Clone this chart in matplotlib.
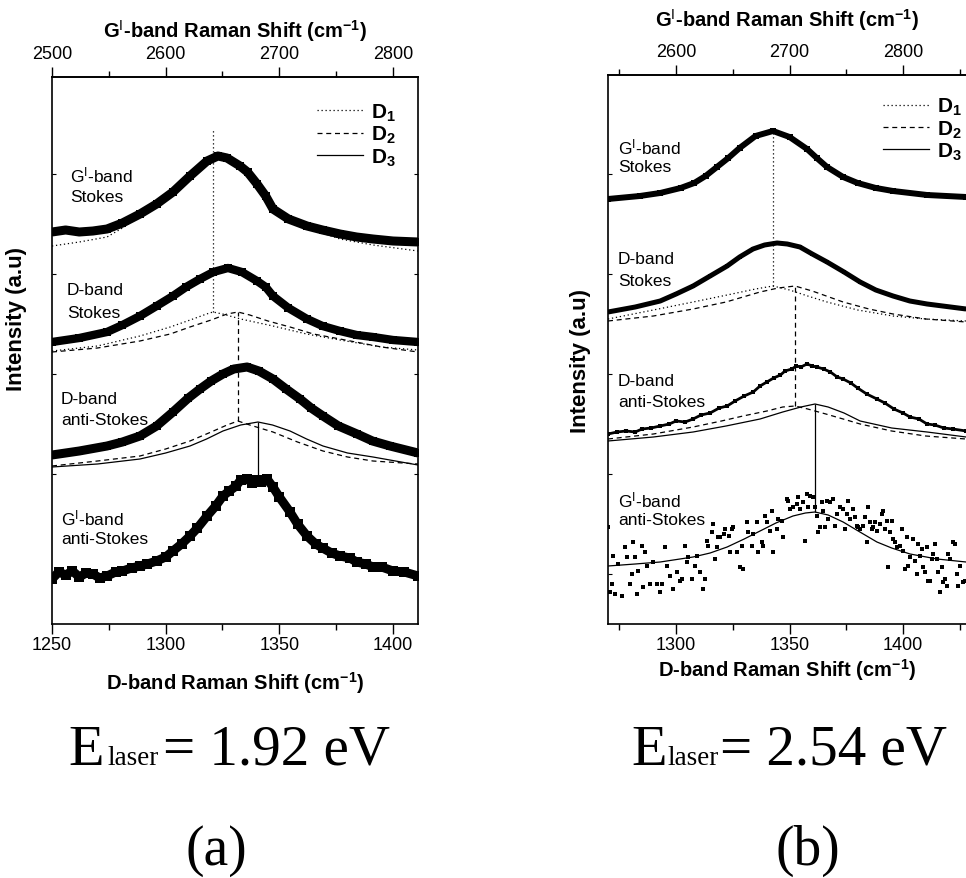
import matplotlib
matplotlib.use('Agg')
import matplotlib.pyplot as plt
from matplotlib.lines import Line2D

plt.rcParams['font.family'] = ['Liberation Sans', 'DejaVu Sans']
plt.rcParams['mathtext.fontset'] = 'custom'
plt.rcParams['mathtext.rm'] = 'Liberation Sans'
plt.rcParams['mathtext.bf'] = 'Liberation Sans:bold'
plt.rcParams['mathtext.it'] = 'Liberation Sans:italic'

# ================= panel (a): E_laser = 1.92 eV =================
# G'-band Stokes (measured) and its D1 fit
a_gs_x = [1250, 1256, 1262, 1268, 1274.2, 1281, 1288.7, 1296, 1303.2, 1310.7, 1318.2, 1323, 1327, 1332.7, 1336,
          1340.2, 1344, 1347.2, 1354, 1362.2, 1369, 1376.7, 1384, 1391.2, 1400, 1411]
a_gs_y = [3.92, 3.94, 3.92, 3.93, 3.95, 4.01, 4.10, 4.20, 4.32, 4.48, 4.63, 4.68, 4.66, 4.58, 4.52,
          4.40, 4.28, 4.15, 4.05, 3.98, 3.94, 3.90, 3.87, 3.85, 3.83, 3.82]
a_gs_d1_x = [1250, 1262, 1274.2, 1281, 1288.7, 1296, 1303.2, 1310.7, 1318.2, 1323, 1327, 1332.7, 1340.2, 1347.2,
             1354, 1362.2, 1376.7, 1391.2, 1411]
a_gs_d1_y = [3.78, 3.82, 3.87, 3.96, 4.08, 4.20, 4.32, 4.48, 4.63, 4.68, 4.66, 4.58, 4.40, 4.17,
             4.05, 3.96, 3.85, 3.79, 3.73]
# D-band Stokes (measured) with D1 and D2 components
a_ds_x = [1250, 1262, 1274.2, 1281, 1288.7, 1296, 1303.2, 1309, 1315.1, 1321, 1327.4, 1333.5, 1340.2, 1344,
          1347.2, 1354, 1362.2, 1369, 1376.7, 1384, 1391.2, 1400, 1411]
a_ds_y = [2.82, 2.86, 2.92, 2.99, 3.08, 3.18, 3.28, 3.37, 3.45, 3.52, 3.56, 3.52, 3.43, 3.37,
          3.28, 3.16, 3.05, 2.98, 2.93, 2.89, 2.87, 2.84, 2.82]
a_ds_d1_x = [1250, 1270, 1288.7, 1302, 1312, 1318, 1320.8, 1325, 1333, 1347.2, 1362, 1376.7, 1395, 1411]
a_ds_d1_y = [2.73, 2.78, 2.88, 2.97, 3.05, 3.10, 3.12, 3.10, 3.05, 2.98, 2.90, 2.84, 2.77, 2.74]
a_ds_d2_x = [1250, 1270, 1288.7, 1302, 1310.7, 1320, 1327, 1331.8, 1337, 1345, 1354.7, 1365, 1376.7, 1395, 1411]
a_ds_d2_y = [2.72, 2.76, 2.83, 2.90, 2.97, 3.04, 3.10, 3.12, 3.09, 3.03, 2.97, 2.90, 2.85, 2.77, 2.72]
# D-band anti-Stokes (measured) with D2 and D3 components
a_das_x = [1250, 1262, 1274.2, 1281, 1288.7, 1296, 1303.2, 1310, 1315.1, 1320, 1325.2, 1330, 1335.8, 1341,
           1347.2, 1353, 1359.1, 1364, 1369.2, 1376, 1384.2, 1391, 1398.7, 1411]
a_das_y = [1.69, 1.73, 1.78, 1.82, 1.88, 1.98, 2.12, 2.26, 2.35, 2.43, 2.50, 2.55, 2.57, 2.53,
           2.45, 2.35, 2.25, 2.16, 2.08, 1.98, 1.90, 1.83, 1.78, 1.71]
a_das_d2_x = [1250, 1270, 1288.7, 1300, 1310.7, 1320, 1327, 1331.8, 1337, 1347.2, 1358, 1369.2, 1380, 1391.2, 1411]
a_das_d2_y = [1.58, 1.63, 1.68, 1.75, 1.83, 1.92, 1.99, 2.03, 1.99, 1.92, 1.82, 1.73, 1.67, 1.63, 1.60]
a_das_d3_x = [1250, 1270, 1288.7, 1300, 1310.7, 1318, 1325.2, 1333, 1340.6, 1347, 1354.7, 1362, 1369.2, 1380,
              1391.2, 1411]
a_das_d3_y = [1.57, 1.60, 1.65, 1.71, 1.78, 1.85, 1.93, 1.99, 2.02, 1.99, 1.93, 1.85, 1.78, 1.71, 1.67, 1.59]
# G'-band anti-Stokes (measured)
a_gas_x = [1250, 1253, 1256, 1259, 1262, 1265, 1268, 1271, 1274.2, 1278, 1281, 1285, 1288.7, 1292, 1296, 1300,
           1303.2, 1307, 1310.7, 1314, 1318.2, 1322, 1325.2, 1328, 1331, 1333, 1335.8, 1338, 1340, 1342, 1344.6,
           1347.2, 1350, 1354.7, 1358, 1362.2, 1366, 1369, 1373, 1376.7, 1381, 1384, 1388, 1391.2, 1395, 1400,
           1405, 1411]
a_gas_y = [0.45, 0.52, 0.49, 0.53, 0.47, 0.51, 0.50, 0.46, 0.48, 0.52, 0.53, 0.56, 0.58, 0.60, 0.63, 0.67,
           0.73, 0.80, 0.88, 0.96, 1.08, 1.18, 1.28, 1.33, 1.38, 1.44, 1.45, 1.41, 1.44, 1.42, 1.45,
           1.37, 1.27, 1.12, 1.00, 0.88, 0.80, 0.76, 0.71, 0.68, 0.66, 0.62, 0.60, 0.57, 0.57, 0.53,
           0.52, 0.48]
# peak markers (vertical guide lines)
a_vline_x = [1320.8, 1331.8, 1340.6]
a_vline_top = [4.95, 3.12, 2.02]
a_vline_bot = [3.12, 2.03, 1.45]

# ================= panel (b): E_laser = 2.54 eV =================
b_gs_x = [1270, 1284, 1293, 1302, 1308, 1313, 1318, 1323, 1328, 1335, 1342.7, 1350, 1357.7, 1362, 1366.5,
          1373.6, 1380, 1388, 1395.6, 1410.6, 1427.8]
b_gs_y = [4.25, 4.28, 4.31, 4.36, 4.41, 4.48, 4.57, 4.66, 4.76, 4.88, 4.93, 4.87, 4.75, 4.66, 4.57,
          4.47, 4.41, 4.36, 4.33, 4.29, 4.27]
b_ds_x = [1270, 1282, 1293, 1300, 1307.5, 1315, 1322.5, 1328, 1333.9, 1339, 1344.5, 1349, 1354.6, 1360, 1366.5,
          1374, 1381.1, 1388, 1395.6, 1403, 1410.6, 1427.8]
b_ds_y = [3.12, 3.17, 3.23, 3.30, 3.38, 3.48, 3.58, 3.67, 3.75, 3.79, 3.81, 3.80, 3.77, 3.70, 3.62,
          3.52, 3.42, 3.34, 3.28, 3.23, 3.20, 3.15]
b_ds_d1_x = [1270, 1290, 1307.5, 1322.5, 1335, 1342.7, 1350, 1358, 1366.5, 1380, 1395.6, 1410, 1427.8]
b_ds_d1_y = [3.05, 3.14, 3.22, 3.29, 3.35, 3.38, 3.34, 3.28, 3.22, 3.14, 3.08, 3.05, 3.03]
b_ds_d2_x = [1270, 1290, 1307.5, 1322, 1337, 1345, 1352.4, 1360, 1373.6, 1385, 1395.6, 1410, 1427.8]
b_ds_d2_y = [3.03, 3.08, 3.15, 3.22, 3.32, 3.36, 3.38, 3.33, 3.22, 3.15, 3.10, 3.05, 3.02]
b_das_x = [1270, 1274, 1278, 1282, 1285, 1289, 1293, 1297, 1300, 1304, 1307.5, 1311, 1315, 1319, 1322.5, 1326,
           1330, 1334, 1337, 1340, 1343, 1346, 1348, 1351, 1353, 1355, 1357.7, 1360, 1362, 1365, 1368, 1371,
           1373.6, 1377, 1380, 1384, 1388.5, 1392, 1396, 1400, 1403.1, 1407, 1410.6, 1414, 1418, 1422, 1427.8]
b_das_y = [1.90, 1.92, 1.93, 1.92, 1.95, 1.96, 1.98, 2.00, 2.03, 2.02, 2.05, 2.09, 2.11, 2.16, 2.18, 2.23,
           2.28, 2.32, 2.38, 2.42, 2.46, 2.49, 2.53, 2.55, 2.58, 2.57, 2.60, 2.58, 2.57, 2.55, 2.52, 2.47,
           2.45, 2.41, 2.36, 2.30, 2.25, 2.21, 2.15, 2.11, 2.07, 2.05, 2.00, 1.99, 1.96, 1.95, 1.93]
b_das_d2_x = [1270, 1290, 1307.5, 1320, 1329.5, 1340, 1347, 1352.4, 1358, 1366, 1373.6, 1381.1, 1395, 1410, 1427.8]
b_das_d2_y = [1.85, 1.90, 1.97, 2.03, 2.08, 2.13, 2.17, 2.18, 2.15, 2.10, 2.05, 2.00, 1.93, 1.88, 1.85]
b_das_d3_x = [1270, 1290, 1307.5, 1322, 1337, 1347, 1355, 1361.2, 1367, 1374, 1381.1, 1395, 1410.6, 1427.8]
b_das_d3_y = [1.83, 1.87, 1.92, 1.98, 2.05, 2.12, 2.17, 2.20, 2.17, 2.11, 2.03, 1.96, 1.92, 1.87]
b_gas_fit_x = [1270, 1282, 1293, 1307.5, 1315, 1322.5, 1330, 1337, 1344, 1351.5, 1357, 1361.2, 1367, 1373.6,
               1381, 1388.5, 1395, 1403.1, 1415, 1427.8]
b_gas_fit_y = [0.58, 0.60, 0.62, 0.67, 0.71, 0.77, 0.85, 0.93, 1.01, 1.08, 1.11, 1.12, 1.09, 1.02,
               0.92, 0.82, 0.76, 0.70, 0.65, 0.62]
b_gas_x = [1270.2, 1271.7, 1270.9, 1273.1, 1276.1, 1272.4, 1274.6, 1277.5, 1278.3, 1279.7, 1280.5, 1281.2, 1281.9, 1282.7,
           1283.4, 1284.9, 1285.6, 1286.3, 1287.1, 1288.5, 1290.0, 1291.5, 1293.0, 1293.7, 1295.2, 1295.9, 1297.4, 1298.8,
           1300.3, 1301.8, 1302.5, 1304.0, 1304.7, 1305.4, 1306.9, 1308.4, 1309.1, 1310.6, 1312.0, 1312.8, 1313.5, 1314.2,
           1315.7, 1316.4, 1317.2, 1317.9, 1318.6, 1319.4, 1320.9, 1321.6, 1323.1, 1323.8, 1324.5, 1325.3, 1326.7, 1328.2,
           1328.9, 1329.7, 1331.1, 1331.9, 1333.3, 1334.1, 1335.5, 1336.3, 1337.7, 1338.5, 1339.2, 1339.9, 1341.4, 1342.1,
           1342.9, 1344.3, 1345.1, 1346.5, 1347.3, 1348.8, 1349.5, 1350.2, 1351.7, 1353.2, 1353.9, 1354.6, 1356.1, 1356.8,
           1357.6, 1358.3, 1359.0, 1360.5, 1361.2, 1362.0, 1362.7, 1363.4, 1364.2, 1364.9, 1365.6, 1366.4, 1367.1, 1367.8,
           1369.3, 1370.0, 1370.8, 1372.2, 1373.7, 1374.4, 1375.2, 1375.9, 1376.7, 1378.1, 1378.9, 1379.6, 1380.3, 1381.1,
           1382.5, 1383.3, 1384.0, 1384.7, 1385.5, 1386.2, 1386.9, 1387.7, 1388.4, 1389.9, 1390.6, 1391.3, 1392.1, 1392.8,
           1393.5, 1394.3, 1395.0, 1395.7, 1396.5, 1397.2, 1398.7, 1399.4, 1400.1, 1400.9, 1401.6, 1402.3, 1403.1, 1404.6,
           1405.3, 1406.0, 1406.8, 1407.5, 1408.2, 1409.0, 1409.7, 1410.4, 1411.2, 1411.9, 1412.6, 1413.4, 1414.1, 1414.8,
           1415.6, 1416.3, 1417.0, 1417.8, 1418.5, 1419.2, 1420.0, 1420.7, 1422.2, 1422.9, 1423.6, 1424.4, 1425.1, 1426.6,
           1427.3]
b_gas_y = [0.97, 0.40, 0.32, 0.30, 0.28, 0.68, 0.60, 0.77, 0.67, 0.40, 0.50, 0.82, 0.67, 0.30,
           0.53, 0.78, 0.37, 0.72, 0.58, 0.40, 0.62, 0.40, 0.32, 0.40, 0.77, 0.58, 0.48, 0.35,
           0.52, 0.43, 0.45, 0.78, 0.62, 0.67, 0.45, 0.58, 0.68, 0.52, 0.35, 0.45, 0.83, 0.78,
           0.92, 1.00, 0.65, 0.77, 0.87, 0.87, 0.90, 0.95, 0.88, 0.72, 0.95, 0.97, 0.72, 0.57,
           0.78, 0.55, 1.02, 0.92, 0.78, 0.90, 1.02, 0.72, 0.82, 0.78, 1.08, 1.02, 0.93, 1.13,
           0.72, 0.95, 1.05, 1.03, 0.87, 1.25, 1.23, 1.15, 1.17, 1.20, 1.27, 1.15, 1.22, 0.83,
           1.30, 1.17, 1.28, 1.27, 1.17, 1.08, 0.92, 0.97, 1.22, 1.13, 0.97, 1.23, 1.05, 1.22,
           1.25, 0.98, 1.10, 1.17, 1.15, 0.95, 1.10, 1.23, 1.05, 1.15, 1.07, 0.98, 0.97, 0.95,
           0.98, 1.07, 0.82, 1.17, 1.02, 0.95, 0.97, 1.02, 0.93, 1.00, 1.10, 1.13, 0.95, 1.03,
           0.57, 0.92, 1.03, 0.85, 0.82, 0.77, 0.78, 0.95, 0.73, 0.55, 0.87, 0.58, 0.67, 0.85,
           0.63, 0.50, 0.80, 0.68, 0.75, 0.57, 0.52, 0.77, 0.43, 0.43, 0.65, 0.70, 0.80, 0.65,
           0.52, 0.32, 0.57, 0.42, 0.45, 0.38, 0.70, 0.65, 0.82, 0.80, 0.50, 0.38, 0.58, 0.42,
           0.43]
b_vline_x = [1342.7, 1352.4, 1361.2]
b_vline_top = [4.93, 3.38, 2.20]
b_vline_bot = [3.38, 2.18, 1.12]

band_labels = [["G$^{\\mathrm{I}}$-band", "Stokes"], ["D-band", "Stokes"],
               ["D-band", "anti-Stokes"], ["G$^{\\mathrm{I}}$-band", "anti-Stokes"]]
legend_labels = [r"$\mathbf{D_1}$", r"$\mathbf{D_2}$", r"$\mathbf{D_3}$"]

# ---------------- figure ----------------
W, H = 966, 879
fig = plt.figure(figsize=(W / 100, H / 100), dpi=100)

def px_axes(l, t, r, b):
    return fig.add_axes([l / W, 1 - b / H, (r - l) / W, (b - t) / H])

axA = px_axes(52, 78, 418, 625)
axB = px_axes(608, 76, 966, 625)

DOT = (0, (1, 2.2))
DASH = (0, (4, 3))
SOLID = '-'
fit_lw = 0.9

def thick(ax, x, y, lw, ms):
    ax.plot(x, y, '-', color='k', lw=lw, zorder=3, solid_joinstyle='round', solid_capstyle='butt')
    ax.plot(x, y, 's', color='k', ms=ms, zorder=3, mew=0)

def fit(ax, x, y, ls):
    return ax.plot(x, y, color='k', lw=fit_lw, linestyle=ls, zorder=2)[0]

# ---- panel a ----
fit(axA, a_gs_d1_x, a_gs_d1_y, DOT)
thick(axA, a_gs_x, a_gs_y, 6.5, 6)
thick(axA, a_ds_x, a_ds_y, 6.0, 5.5)
fit(axA, a_ds_d1_x, a_ds_d1_y, DOT)
fit(axA, a_ds_d2_x, a_ds_d2_y, DASH)
thick(axA, a_das_x, a_das_y, 6.5, 6)
fit(axA, a_das_d2_x, a_das_d2_y, DASH)
fit(axA, a_das_d3_x, a_das_d3_y, SOLID)
thick(axA, a_gas_x, a_gas_y, 6.5, 6.5)
for x, yt, yb, ls in zip(a_vline_x, a_vline_top, a_vline_bot, [DOT, DASH, SOLID]):
    axA.vlines(x, yb, yt, colors='k', linestyles=[ls], lw=fit_lw, zorder=2)

# ---- panel b ----
fit(axB, b_gs_x, b_gs_y, DOT)
thick(axB, b_gs_x, b_gs_y, 4.3, 4)
thick(axB, b_ds_x, b_ds_y, 3.6, 3.5)
fit(axB, b_ds_d1_x, b_ds_d1_y, DOT)
fit(axB, b_ds_d2_x, b_ds_d2_y, DASH)
axB.plot(b_das_x, b_das_y, '-', color='k', lw=2.0, zorder=3)
axB.plot(b_das_x, b_das_y, 's', color='k', ms=2.6, mew=0, zorder=3)
fit(axB, b_das_d2_x, b_das_d2_y, DASH)
fit(axB, b_das_d3_x, b_das_d3_y, SOLID)
fit(axB, b_gas_fit_x, b_gas_fit_y, SOLID)
axB.plot(b_gas_x, b_gas_y, 's', color='k', ms=2.6, mew=0, zorder=3)
for x, yt, yb, ls in zip(b_vline_x, b_vline_top, b_vline_bot, [DOT, DASH, SOLID]):
    axB.vlines(x, yb, yt, colors='k', linestyles=[ls], lw=fit_lw, zorder=2)

# ---- axes styling ----
def style(ax, xlim, ylim, major, minor, tmajor, tminor, ylab_xy, xlab_pad, top_pad, right_spine=True):
    ax.set_xlim(*xlim)
    ax.set_ylim(*ylim)
    ax.set_xticks(major)
    ax.set_xticks(minor, minor=True)
    ax.tick_params(axis='x', which='major', direction='out', length=7, width=1, labelsize=13, pad=2)
    ax.tick_params(axis='x', which='minor', direction='out', length=4, width=1)
    ax.set_yticks([0.5, 1.5, 2.5, 3.5, 4.5])
    ax.tick_params(axis='y', which='major', direction='in', length=3, width=0.8,
                   left=True, right=right_spine, labelleft=False)
    for s in ax.spines.values():
        s.set_linewidth(1.2)
    ax.spines['right'].set_visible(right_spine)
    ax.set_xlabel('D-band Raman Shift (cm$^{\\mathbf{-1}}$)', fontsize=14.5, fontweight='bold', labelpad=xlab_pad)
    ax.set_ylabel('Intensity (a.u)', fontsize=16, fontweight='bold')
    ax.yaxis.set_label_coords(*ylab_xy)
    top = ax.secondary_xaxis('top', functions=(lambda v: 2 * v, lambda v: v / 2))
    top.set_xticks(tmajor)
    top.set_xticks(tminor, minor=True)
    top.tick_params(axis='x', which='major', direction='out', length=7, width=1, labelsize=13, pad=4)
    top.tick_params(axis='x', which='minor', direction='out', length=4, width=1)
    top.spines['top'].set_linewidth(1.2)
    top.set_xlabel('G$^{\\mathrm{I}}$-band Raman Shift (cm$^{\\mathbf{-1}}$)', fontsize=14.5,
                   fontweight='bold', labelpad=top_pad)

style(axA, (1250, 1411), (0, 5.47), [1250, 1300, 1350, 1400], [1275, 1325, 1375],
      [2500, 2600, 2700, 2800], [2550, 2650, 2750], (-0.068, 0.56), 11, 6)
style(axB, (1270, 1427.75), (0, 5.49), [1300, 1350, 1400], [1275, 1325, 1375, 1425],
      [2600, 2700, 2800], [2550, 2650, 2750, 2850], (-0.047, 0.48), 2, 12, right_spine=False)

# band labels (pixel positions converted to axes fractions)
a_lab_pos = [(70, 175, 197), (67, 291, 313), (61, 400, 421), (61, 518, 540)]
b_lab_pos = [(618, 147, 168), (618, 260, 282), (618, 382, 403), (618, 500, 521)]
for ax, (l, t, r, b), pos in [(axA, (52, 78, 418, 625), a_lab_pos), (axB, (608, 76, 966, 625), b_lab_pos)]:
    for (x, y1, y2), (t1, t2) in zip(pos, band_labels):
        ax.text((x - l) / (r - l), (b - y1) / (b - t), t1, transform=ax.transAxes, fontsize=12.5, va='center', ha='left')
        ax.text((x - l) / (r - l), (b - y2) / (b - t), t2, transform=ax.transAxes, fontsize=12.5, va='center', ha='left')

# legends
for ax, anchor in [(axA, (0.724, 0.955)), (axB, (0.768, 0.962))]:
    hs = [Line2D([], [], color='k', lw=fit_lw, linestyle=ls) for ls in (DOT, DASH, SOLID)]
    ax.legend(hs, legend_labels, loc='upper left', bbox_to_anchor=anchor, frameon=False,
              fontsize=15, handlelength=2.2, handletextpad=0.4, labelspacing=0.05,
              borderpad=0, borderaxespad=0)

# bottom captions
serif = 'Liberation Serif'
base_y = 1 - 765 / H
for xE, xl, xeq, val in [(68, 107, 163, '= 1.92 eV'), (631, 668, 720, '= 2.54 eV')]:
    fig.text(xE / W, base_y, 'E', family=serif, fontsize=42, va='baseline', ha='left')
    fig.text(xl / W, base_y, 'laser', family=serif, fontsize=19.5, va='baseline', ha='left')
    fig.text(xeq / W, base_y, val, family=serif, fontsize=41, va='baseline', ha='left')
fig.text(216 / W, 1 - 851 / H, '(a)', family=serif, fontsize=40, va='center', ha='center')
fig.text(808 / W, 1 - 851 / H, '(b)', family=serif, fontsize=40, va='center', ha='center')

fig.savefig('out.png', dpi=100)
